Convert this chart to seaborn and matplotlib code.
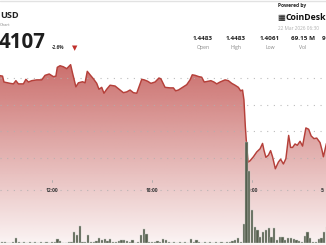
import numpy as np
import matplotlib
matplotlib.use("Agg")
import matplotlib.pyplot as plt
from matplotlib import transforms
from matplotlib.colors import to_rgb
import seaborn as sns

# ---------------- data ----------------
# price line: minutes since 00:00 of day 1, price in USD
price_minutes = [532, 542, 547, 569, 581, 590, 599, 617, 626, 635,
                 647, 665, 683, 695, 710, 725, 734, 739, 749, 761,
                 773, 787, 794, 806, 815, 830, 839, 847, 857, 869,
                 881, 889, 899, 907, 917, 929, 947, 965, 977, 989,
                 1001, 1013, 1025, 1043, 1052, 1064, 1076, 1091, 1105, 1112,
                 1127, 1145, 1157, 1165, 1175, 1193, 1205, 1217, 1225, 1235,
                 1249, 1259, 1268, 1283, 1292, 1303, 1313, 1325, 1343, 1355,
                 1367, 1379, 1391, 1399, 1406, 1411, 1416, 1421, 1426, 1433,
                 1445, 1457, 1469, 1478, 1483, 1490, 1499, 1507, 1514, 1524,
                 1535, 1543, 1553, 1562, 1572, 1579, 1586, 1595, 1603, 1613,
                 1622, 1634, 1644, 1653, 1663, 1673, 1685, 1692, 1697, 1708]
prices = [1.4409, 1.4407, 1.4385, 1.4380, 1.4378, 1.4390, 1.4378, 1.4378, 1.4395, 1.4385,
          1.4390, 1.4393, 1.4393, 1.4410, 1.4415, 1.4405, 1.4407, 1.4440, 1.4446, 1.4442,
          1.4435, 1.4450, 1.4418, 1.4367, 1.4382, 1.4386, 1.4382, 1.4425, 1.4412, 1.4397,
          1.4380, 1.4358, 1.4365, 1.4343, 1.4358, 1.4373, 1.4370, 1.4355, 1.4345, 1.4348,
          1.4355, 1.4345, 1.4343, 1.4395, 1.4393, 1.4388, 1.4380, 1.4385, 1.4400, 1.4397,
          1.4365, 1.4363, 1.4363, 1.4352, 1.4355, 1.4367, 1.4375, 1.4393, 1.4412, 1.4410,
          1.4405, 1.4403, 1.4385, 1.4388, 1.4390, 1.4385, 1.4378, 1.4385, 1.4393, 1.4390,
          1.4380, 1.4373, 1.4365, 1.4352, 1.4355, 1.4318, 1.4218, 1.4143, 1.4085, 1.4090,
          1.4105, 1.4123, 1.4135, 1.4155, 1.4130, 1.4103, 1.4111, 1.4128, 1.4105, 1.4060,
          1.4085, 1.4096, 1.4078, 1.4098, 1.4185, 1.4140, 1.4140, 1.4153, 1.4148, 1.4163,
          1.4145, 1.4213, 1.4208, 1.4183, 1.4173, 1.4175, 1.4158, 1.4130, 1.4105, 1.4155]

# 10-minute volume bars (millions), first bar at 09:00
vol_start_minute = 540
vol_step_minutes = 10
volumes = [0.07, 0.07, 0.05, 0.05, 0.07, 0.53, 0.07, 0.05, 0.07, 0.05,
           0.07, 0.05, 0.07, 0.05, 0.07, 0.05, 0.07, 0.05, 0.07, 0.10,
           0.40, 0.20, 0.05, 0.05, 0.07, 0.10, 1.13, 0.80, 1.73, 0.13,
           0.07, 0.80, 0.13, 0.13, 0.20, 0.53, 0.27, 0.40, 0.20, 0.40,
           0.07, 0.07, 0.20, 0.33, 0.27, 0.20, 0.07, 0.33, 0.05, 0.10,
           0.80, 1.40, 0.93, 0.13, 0.13, 0.07, 0.20, 0.07, 0.40, 0.33,
           0.07, 0.05, 0.07, 0.05, 0.07, 0.05, 0.07, 0.05, 0.40, 0.13,
           0.27, 0.07, 0.05, 0.07, 0.05, 0.07, 0.05, 0.07, 0.05, 0.07,
           0.05, 0.07, 0.10, 0.20, 0.27, 0.53, 0.10, 1.87, 10.10, 7.20,
           3.27, 1.60, 1.27, 0.60, 1.07, 1.33, 1.53, 0.60, 1.53, 0.27,
           0.60, 0.60, 0.33, 0.53, 0.53, 0.40, 0.33, 0.20, 0.07, 0.67,
           1.07, 0.47, 0.13, 0.07, 0.40, 0.47, 1.13, 1.60]
vol_minutes = [vol_start_minute + vol_step_minutes * i for i in range(len(volumes))]

grid_prices = [1.44, 1.43, 1.42, 1.41]
tick_minutes = [720, 1080, 1440]
tick_labels = ["12:00", "18:00", "00:00"]

stat_values = ["1.4483", "1.4483", "1.4061", "69.15 M"]
stat_names = ["Open", "High", "Low", "Vol"]

# ---------------- style ----------------
sns.set_style("white")
plt.rcParams["font.family"] = ["Open Sans", "DejaVu Sans"]

W, H = 326, 245
fig = plt.figure(figsize=(W / 100, H / 100), dpi=100)
fig.patch.set_facecolor("white")

def fx(px):
    return px / W

def fy(py):
    return 1 - py / H

XLIM = (532.8, 1706.4)
YLIM = (1.37746, 1.44674)

# price axes: pixel rows 60..245
ax = fig.add_axes([0, 0, 1, 185 / H])
ax.set_xlim(*XLIM)
ax.set_ylim(*YLIM)
ax.axis("off")

# gradient fill under the line
base = np.array(to_rgb("#c0504d"))
n = 256
grad = np.ones((n, 1, 4))
grad[..., :3] = base
grad[:, 0, 3] = np.linspace(0.84, 0.06, n)
im = ax.imshow(grad, extent=[XLIM[0], XLIM[1], YLIM[0], YLIM[1]],
               aspect="auto", origin="upper", interpolation="bilinear", zorder=1)
poly = ax.fill_between(price_minutes, prices, YLIM[0], facecolor="none",
                       edgecolor="none")
im.set_clip_path(poly.get_paths()[0], transform=ax.transData)

for gp in grid_prices:
    ax.axhline(gp, color="#b0b0b0", lw=0.8, ls=(0, (1, 5)), alpha=0.85, zorder=2)

sns.lineplot(x=price_minutes, y=prices, ax=ax, color="#b5403a",
             linewidth=1.05, zorder=3)
ax.set_xlim(*XLIM)
ax.set_ylim(*YLIM)
ax.axis("off")

# time axis row (inside the chart)
trans = transforms.blended_transform_factory(ax.transData, ax.transAxes)
y_lab = (245 - 190) / 185
y_tick = (245 - 181) / 185
ax.plot([0, 1], [y_lab, y_lab], transform=ax.transAxes, color="#b0b0b0",
        lw=0.8, ls=(0, (1, 5)), alpha=0.85, zorder=2)
for t, lab in zip(tick_minutes, tick_labels):
    ax.plot([t, t], [y_tick - 0.006, y_tick + 0.006], transform=trans,
            color="#aaaaaa", lw=0.6, zorder=2)
    ax.text(t, y_lab, lab, transform=trans, ha="center", va="center",
            fontsize=3.6, fontweight="bold", color="#3a3a3a", zorder=6)
ax.text(XLIM[0] + 320.5 * 3.6, y_lab, "5:", transform=trans, ha="left",
        va="center", fontsize=3.6, fontweight="bold", color="#3a3a3a", zorder=6)

# volume axes: pixel rows 140..243
vax = fig.add_axes([0, 2 / H, 1, 103 / H])
vax.patch.set_alpha(0)
vax.bar(vol_minutes, volumes, width=8, color="#56604f", edgecolor="#c5c9c2",
        linewidth=0.3, zorder=4)
vax.axhline(0, color="#d8d8d8", lw=1.0)
vax.set_xlim(*XLIM)
vax.set_ylim(0, 10.3)
vax.axis("off")

# ---------------- header ----------------
fig.add_artist(plt.Line2D([0, 1], [fy(0.8), fy(0.8)], color="#e2e2e2", lw=1.0))
fig.text(fx(0), fy(18.3), "USD", fontsize=6.6, fontweight="bold",
         color="#222222", ha="left", va="baseline")
fig.text(fx(0), fy(26), "Chart", fontsize=3.0, color="#8a8a8a",
         ha="left", va="baseline")
fig.text(fx(-1), fy(48.3), "4107", fontsize=14.8, fontweight="bold",
         color="#1e1e1e", ha="left", va="baseline")
fig.text(fx(51.5), fy(49.3), "-2.6%", fontsize=3.4, fontweight="bold",
         color="#333333", ha="left", va="baseline")
fig.text(fx(71.5), fy(50.3), "\u25BC", fontsize=5.0, color="#c0302b",
         ha="left", va="baseline", family=["DejaVu Sans"])

fig.text(fx(278), fy(7.5), "Powered by", fontsize=3.5, fontweight="bold",
         color="#222222", ha="left", va="baseline")
fig.text(fx(277.5), fy(20.3), "\u25A6", fontsize=6.0, color="#111111",
         ha="left", va="baseline", family=["DejaVu Sans"])
fig.text(fx(325.5), fy(20.3), "CoinDesk", fontsize=6.3, fontweight="bold",
         color="#111111", ha="right", va="baseline")
fig.text(fx(278), fy(30.5), "22 Mar 2026 06:30", fontsize=3.4,
         color="#b0b0b0", ha="left", va="baseline")

stat_centers = [203, 236, 270, 303]
for c, v, nme in zip(stat_centers, stat_values, stat_names):
    fig.text(fx(c), fy(40.5), v, fontsize=4.6, fontweight="bold",
             color="#222222", ha="center", va="baseline")
    fig.text(fx(c), fy(49.3), nme, fontsize=3.7, color="#8a8a8a",
             ha="center", va="baseline")
fig.text(fx(322), fy(40.5), "9", fontsize=4.6, fontweight="bold",
         color="#222222", ha="left", va="baseline")

fig.savefig("out.png", dpi=100, facecolor="white")
